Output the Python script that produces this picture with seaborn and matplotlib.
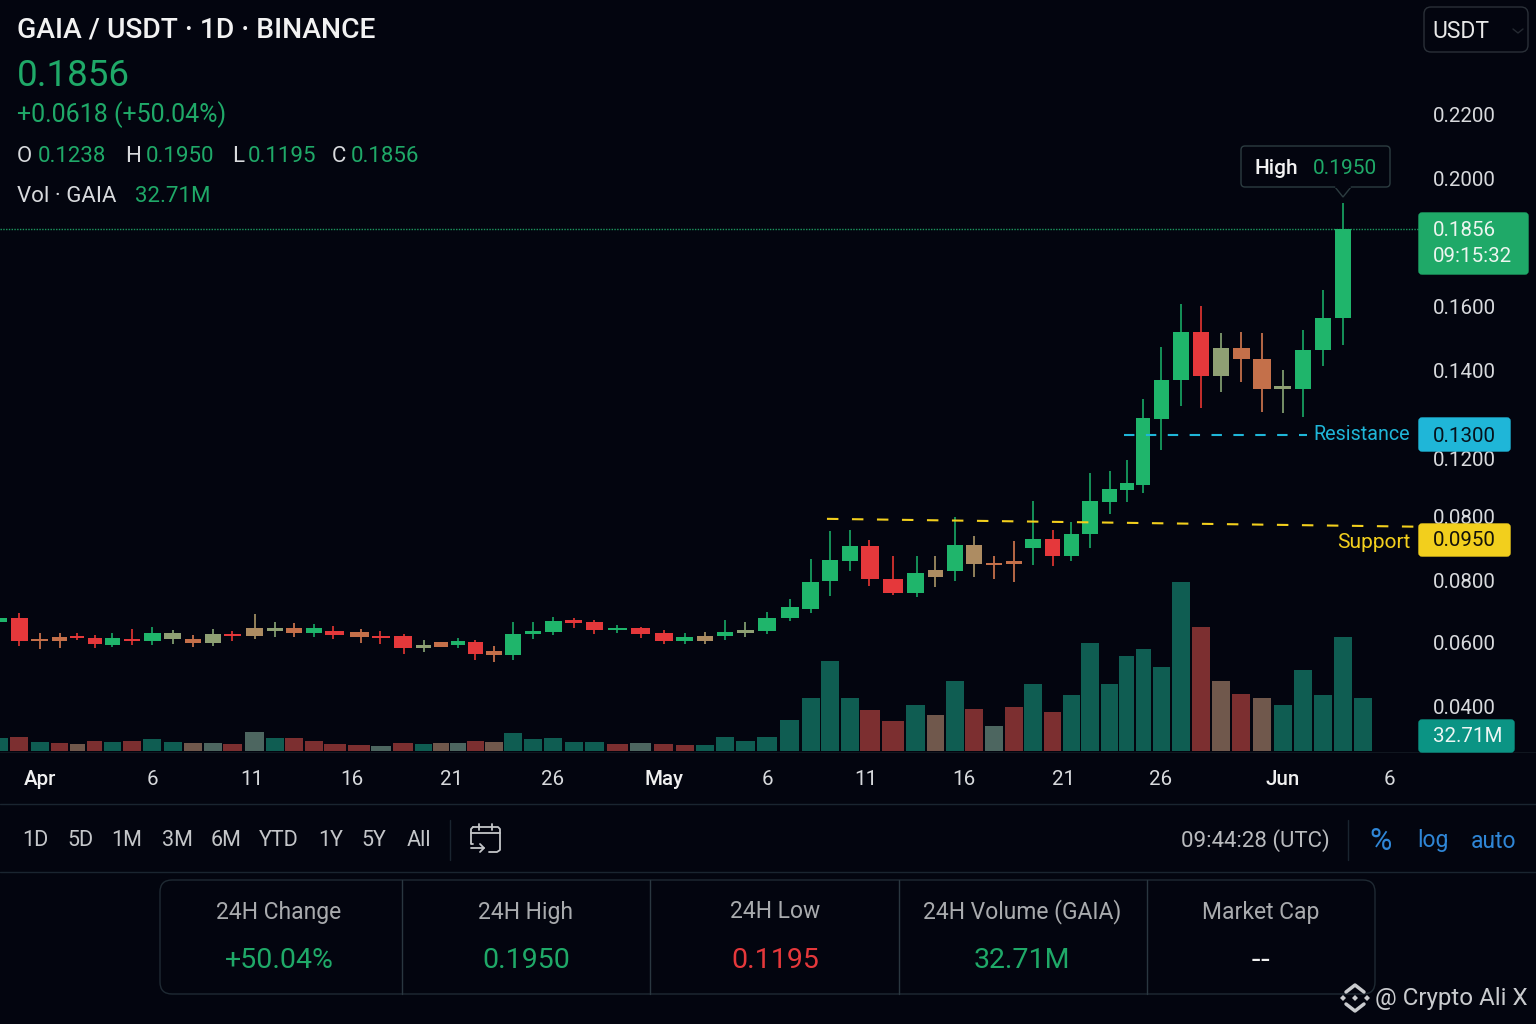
import matplotlib
matplotlib.use('Agg')
import matplotlib.pyplot as plt
from matplotlib.patches import FancyBboxPatch, Polygon
import numpy as np
import pandas as pd
import seaborn as sns

# candle values, one per day (index 0 = first candle at the left edge)
opens = [.0667, .0679, .0613, .0619, .0622, .0616, .0594, .0613, .0606, .0632,
         .0613, .0629, .0629, .0648, .0648, .0648, .0632, .0638, .0635, .0622,
         .0622, .0594, .0603, .0594, .0603, .0575, .0562, .0629, .0635, .0673,
         .0667, .0641, .0648, .0632, .0606, .0622, .0622, .0641, .0638, .0679,
         .0708, .0797, .0871, .0928, .0804, .0759, .0838, .0834, .0931, .0864,
         .0871, .0921, .0952, .0890, .0963, .1051, .1092, .1108, .1325, .1386,
         .1522, .1472, .1472, .1438, .1375, .1372, .1466, .1566]
highs = [.0679, .0695, .0632, .0632, .0632, .0625, .0632, .0644, .0651, .0641,
         .0625, .0644, .0638, .0692, .0667, .0663, .0660, .0654, .0644, .0638,
         .0629, .0610, .0603, .0616, .0610, .0590, .0667, .0667, .0683, .0679,
         .0673, .0657, .0651, .0641, .0632, .0635, .0673, .0667, .0698, .0740,
         .0879, .0970, .0972, .0950, .0890, .0890, .0890, .1000, .0959, .0890,
         .0946, .1054, .0972, .0989, .1149, .1156, .1193, .1356, .1475, .1610,
         .1603, .1519, .1522, .1519, .1403, .1528, .1656, .1950]
lows = [.0660, .0590, .0581, .0584, .0610, .0584, .0587, .0594, .0594, .0597,
        .0587, .0590, .0606, .0613, .0619, .0619, .0619, .0613, .0600, .0597,
        .0565, .0571, .0587, .0584, .0546, .0540, .0546, .0613, .0625, .0648,
        .0629, .0632, .0616, .0597, .0597, .0597, .0610, .0619, .0629, .0670,
        .0695, .0749, .0834, .0781, .0752, .0746, .0778, .0797, .0811, .0804,
        .0794, .0856, .0853, .0871, .0921, .1010, .1051, .1081, .1235, .1345,
        .1342, .1367, .1383, .1336, .1334, .1328, .1416, .1481]
closes = [.0679, .0606, .0606, .0606, .0616, .0597, .0616, .0606, .0632, .0613,
          .0600, .0600, .0622, .0622, .0638, .0632, .0648, .0625, .0619, .0616,
          .0584, .0584, .0587, .0606, .0565, .0562, .0629, .0638, .0670, .0663,
          .0641, .0648, .0629, .0606, .0619, .0606, .0635, .0632, .0679, .0714,
          .0794, .0875, .0928, .0804, .0759, .0826, .0811, .0931, .0860, .0856,
          .0860, .0952, .0890, .0963, .1054, .1095, .1115, .1327, .1386, .1522,
          .1392, .1392, .1438, .1372, .1372, .1466, .1566, .1856]
candle_tone = list('groorrgrgkokrtkogrorrkogrogggrrgrrgtgkgg'
                   'gggrrgtgtoogrgggggggrkookggg')
# volume has one extra bar after the last candle
volumes = [3.7, 4.0, 2.6, 2.3, 2.0, 2.9, 2.6, 2.9, 3.4, 2.6, 2.3, 2.3, 2.0, 5.5,
           3.7, 3.7, 2.9, 2.0, 1.7, 1.4, 2.3, 2.0, 2.3, 2.3, 2.9, 2.6, 5.2, 3.4,
           3.7, 2.6, 2.6, 2.0, 2.3, 2.0, 1.7, 1.7, 4.0, 2.9, 4.0, 8.9, 15.2, 25.8,
           15.2, 11.8, 8.6, 13.2, 10.3, 20.1, 12.1, 7.2, 12.6, 19.2, 11.2, 16.1,
           31.0, 19.2, 27.3, 29.3, 24.1, 48.5, 35.6, 20.1, 16.4, 15.2, 13.2, 23.2,
           16.1, 32.71, 15.2]
volume_tone = list('trtrbrtrttbgrgtrrrrgrtbgrbtttttrgrrttttt'
                   'tttrrtbtrgrtrtttttttrbrbtttt' + 't')

price_ticks = [.22, .20, .16, .14, .12, .10, .08, .06, .04]
price_labels = ['0.2200', '0.2000', '0.1600', '0.1400', '0.1200', '0.0800',
                '0.0800', '0.0600', '0.0400']
date_ticks = [2, 8, 12.87, 17.68, 22.65, 28, 33, 38, 42.85, 47.45, 52.6, 58, 64, 69.33]
date_labels = ['Apr', '6', '11', '16', '21', '26', 'May', '6', '11', '16', '21',
               '26', 'Jun', '6']
range_buttons = ['1D', '5D', '1M', '3M', '6M', 'YTD', '1Y', '5Y', 'All']
stat_names = ['24H Change', '24H High', '24H Low', '24H Volume (GAIA)', 'Market Cap']
stat_values = ['+50.04%', '0.1950', '0.1195', '32.71M', '--']

last_price = 0.1856
resistance = 0.13
support_x = [40.84, 70.5]
support_y = [.0996, .0979]

BG = '#03050f'
GREEN = '#1fa968'
CANDLE = {'g': '#1fb56b', 'r': '#e5383b', 'o': '#c4704a', 'k': '#8fa074', 't': '#ad8c62'}
WICK = {'g': '#169c5e', 'r': '#d5322f', 'o': '#c4704a', 'k': '#7f9a6e', 't': '#9c8a60'}
BARS = {'t': '#0f5d52', 'r': '#7c2f30', 'b': '#70584c', 'g': '#4d6660'}

sns.set_theme(style='dark', rc={'figure.facecolor': BG, 'savefig.facecolor': BG})
plt.rcParams['font.family'] = ['Roboto', 'DejaVu Sans']

fig = plt.figure(figsize=(15.36, 10.24), dpi=100)
box = [0, (1024 - 751) / 1024, 1420 / 1536, 751 / 1024]
ax_vol = fig.add_axes(box)
ax = fig.add_axes(box)
ui = fig.add_axes([0, 0, 1, 1])

# the screenshot's axes are not linear, so both axes go through a stretched scale
price_nodes = [.0257, .04, .06, .08, .095, .10, .12, .13, .14, .16, .1856, .195, .20, .22, .2558]
price_px = [751, 706, 643, 580, 540, 517, 458, 435, 371, 307, 229, 203, 179, 115, 0]
day_nodes = [-2, 0, 1, 2, 3, 6, 7, 8, 9, 10, 11, 12, 13, 14, 15, 16, 17, 18, 19, 20, 21, 24,
             25, 26, 27, 28, 29, 30, 31, 32, 33, 34, 35, 36, 37, 38, 39, 40, 41, 42, 43, 44,
             45, 46, 47, 48, 49, 50, 51, 52, 53, 54, 55, 56, 57, 58, 59, 60, 61, 62, 63, 64,
             65, 66, 67, 69, 71]
day_px = [-41, -1, 19, 40, 60, 112, 132, 152, 173, 193, 213, 232, 255, 275, 294, 314, 333, 361,
          380, 404, 424, 475, 494, 513, 533, 553, 574, 594, 617, 641, 664, 685, 705, 725, 745,
          767, 790, 811, 830, 850, 869, 893, 917, 935, 955, 974, 994, 1014, 1033, 1053, 1071,
          1090, 1110, 1127, 1143, 1161, 1181, 1201, 1221, 1241, 1262, 1283, 1303, 1323, 1343,
          1383, 1425]


def price_fwd(v):
    return -np.interp(v, price_nodes, price_px)


def price_inv(v):
    return np.interp(-np.asarray(v), price_px[::-1], price_nodes[::-1])


def day_fwd(v):
    return np.interp(v, day_nodes, day_px)


def day_inv(v):
    return np.interp(v, day_px, day_nodes)


days = np.arange(len(opens))
candles = pd.DataFrame({'day': days, 'open': opens, 'high': highs, 'low': lows,
                        'close': closes, 'tone': candle_tone})
vol_df = pd.DataFrame({'day': np.arange(len(volumes)), 'volume': volumes, 'tone': volume_tone})

# volume bars
sns.barplot(data=vol_df, x='day', y='volume', hue='tone', palette=BARS, native_scale=True,
            dodge=False, legend=False, saturation=1, errorbar=None, width=0.9, linewidth=0, ax=ax_vol)
ax_vol.set_xscale('function', functions=(day_fwd, day_inv))
ax_vol.set_xlim(day_inv(0), day_inv(1420))
ax_vol.set_ylim(0, 215.5)
ax_vol.axis('off')

# candles
for tone, part in candles.groupby('tone'):
    ax.vlines(part['day'], part['low'], part['high'], color=WICK[tone], lw=1.3, zorder=2)
    ax.bar(part['day'], (part['close'] - part['open']).abs().clip(lower=.0004),
           bottom=part[['open', 'close']].min(axis=1), width=0.82, color=CANDLE[tone],
           linewidth=0, zorder=3)

ax.axhline(last_price, color=GREEN, lw=1, ls=(0, (1, 1)), alpha=0.9, zorder=1)
ax.plot([55.8, 65.2], [resistance, resistance], color='#1fb6d8', lw=1.5, dashes=(5, 5.5), zorder=4)
ax.plot(support_x, support_y, color='#f2cf1d', lw=1.5, dashes=(5.5, 6.5), zorder=4)

ax.set_xscale('function', functions=(day_fwd, day_inv))
ax.set_yscale('function', functions=(price_fwd, price_inv))
ax.set_xlim(day_inv(0), day_inv(1420))
ax.set_ylim(price_nodes[0], price_nodes[-1])
ax.patch.set_alpha(0)
ax.grid(False)
for s in ax.spines.values():
    s.set_visible(False)
ax.yaxis.tick_right()
ax.set_yticks(price_ticks, price_labels, ha='left')
ax.set_xticks(date_ticks, date_labels)
ax.minorticks_off()
ax.tick_params(axis='y', length=0, pad=9, labelsize=14.8, labelcolor='#d8dadd')
ax.tick_params(axis='x', length=0, pad=14, labelsize=14.8, labelcolor='#d8dadd')
for lab in ax.get_xticklabels():
    if lab.get_text() in ('Apr', 'May', 'Jun'):
        lab.set_fontweight('medium')
        lab.set_color('#f0f0f0')

# everything around the chart, in screen pixels
ui.set_xlim(0, 1536)
ui.set_ylim(1024, 0)
ui.axis('off')
ui.patch.set_alpha(0)


def label(x, y, s, size=16, color='#d8dadd', ha='left', **kw):
    ui.text(x, y, s, fontsize=size, color=color, ha=ha, va='center', **kw)


def tag(x0, y0, x1, y1, face, edge=None, pad=4):
    ui.add_patch(FancyBboxPatch((x0 + pad, y0 + pad), x1 - x0 - 2 * pad, y1 - y0 - 2 * pad,
                                boxstyle=f'round,pad={pad}', fc=face, ec=edge or face, lw=1, zorder=5))


label(17, 30, 'GAIA / USDT · 1D · BINANCE', size=20.3, color='#f2f2f2', fontweight='medium')
label(17, 76, '0.1856', size=26.5, color=GREEN)
label(17, 115, '+0.0618 (+50.04%)', size=18, color=GREEN)
for x, name, vx, val in [(17, 'O', 38, '0.1238'), (125, 'H', 146, '0.1950'),
                         (232, 'L', 248, '0.1195'), (332, 'C', 351, '0.1856')]:
    label(x, 157, name)
    label(vx, 157, val, color=GREEN)
label(17, 197, 'Vol · GAIA')
label(135, 197, '32.71M', color=GREEN)

tag(1424, 7, 1528, 52, BG, '#2a3038', pad=7)
label(1432, 32, 'USDT', size=16.5, color='#e8e8e8', zorder=6)
ui.plot([1513, 1518, 1523], [29, 33, 29], color='#252a32', lw=1, zorder=6)

tag(1241, 146, 1390, 187, BG, '#2c3c40', pad=4)
ui.add_patch(Polygon([(1335, 187), (1343, 197), (1351, 187)], fc=BG, ec='#2c3c40', lw=1, zorder=5, closed=False))
ui.plot([1336, 1350], [187, 187], color=BG, lw=1.5, zorder=6)
label(1255, 168, 'High', size=15, color='#f2f2f2', fontweight='medium', zorder=6)
label(1313, 168, '0.1950', size=15, color=GREEN, zorder=6)

tag(1419, 213, 1528, 274, '#1fa968', pad=3)
label(1433, 230, '0.1856', size=14.8, color='#ecf5ef', zorder=6)
label(1433, 257, '09:15:32', size=14.8, color='#ecf5ef', zorder=6)

tag(1419, 418, 1510, 451, '#1fb6d8', pad=3)
label(1433, 436, '0.1300', size=14.8, color='#06121c', zorder=6)
label(1410, 435, 'Resistance', size=14.2, color='#1fb6d8', ha='right')
tag(1419, 524, 1510, 556, '#f2cf1d', pad=3)
label(1433, 541, '0.0950', size=14.8, color='#14120a', zorder=6)
label(1410, 543, 'Support', size=15, color='#f2cf1d', ha='right')
tag(1419, 720, 1514, 752, '#0b9484', pad=3)
label(1433, 737, '32.71M', size=14.8, color='#eef6f4', zorder=6)

# toolbar
LINE = '#1a2530'
ui.plot([0, 1536], [752, 752], color='#10161f', lw=0.8)
ui.plot([0, 1536], [804, 804], color=LINE, lw=1)
ui.plot([0, 1536], [872, 872], color=LINE, lw=1)
for x, s in zip([35, 80, 127, 177, 226, 279, 331, 374, 419], range_buttons):
    label(x, 841, s, size=15.5, color='#c4c6c9', ha='center')
ui.plot([450, 450], [820, 860], color=LINE, lw=1)
ui.plot([1348, 1348], [820, 860], color=LINE, lw=1)

# calendar icon
ic = '#c4c6c9'
ui.plot([473, 471, 471, 473], [844, 844, 829, 827], color=ic, lw=1.3)
ui.plot([473, 498, 500, 500, 497, 489], [827, 827, 829, 850, 852, 852], color=ic, lw=1.3)
ui.plot([471, 500], [833, 833], color=ic, lw=1.3)
ui.plot([479, 479], [824, 830], color=ic, lw=1.3)
ui.plot([492, 492], [824, 830], color=ic, lw=1.3)
ui.plot([471, 484, 480], [848, 848, 844], color=ic, lw=1.3)
ui.plot([484, 480], [848, 852], color=ic, lw=1.3)

label(1330, 841, '09:44:28 (UTC)', size=16, color='#b9bbbe', ha='right')
label(1381, 841, '%', size=22, color='#2f86d6', ha='center')
label(1433, 841, 'log', size=16.5, color='#2f86d6', ha='center')
label(1493, 841, 'auto', size=16.5, color='#2f86d6', ha='center')

# stats table
tag(160, 880, 1375, 994, BG, '#1f2a33', pad=12)
for x in [402, 650, 899, 1147]:
    ui.plot([x, x], [880, 994], color='#2a3740', lw=1, zorder=6)
stat_colors = [GREEN, GREEN, '#e5383b', GREEN, '#f0f0f0']
for x, name, val, c in zip([279, 526, 775, 1022, 1261], stat_names, stat_values, stat_colors):
    label(x, 912, name, size=16.5, color='#a9abae', ha='center', zorder=6)
    # Roboto joins the two hyphens of the empty value into one dash
    family = 'DejaVu Sans' if val == '--' else 'Roboto'
    label(x, 960, val, size=20.5, color=c, ha='center', zorder=6, family=family)

# watermark
wm = '#c9cbce'
for cx, cy, r in [(1355, 998, 3), (1343, 998, 3), (1367, 998, 3)]:
    ui.add_patch(Polygon([(cx - r, cy), (cx, cy - r), (cx + r, cy), (cx, cy + r)], fc=wm, ec='none', zorder=7))
ui.plot([1346, 1355, 1364], [992, 985, 992], color=wm, lw=2.5, zorder=7)
ui.plot([1346, 1355, 1364], [1004, 1011, 1004], color=wm, lw=2.5, zorder=7)
label(1375, 999, '@ Crypto Ali X', size=17.4, color=wm, zorder=7)

fig.savefig('out.png', dpi=100, facecolor=BG)
